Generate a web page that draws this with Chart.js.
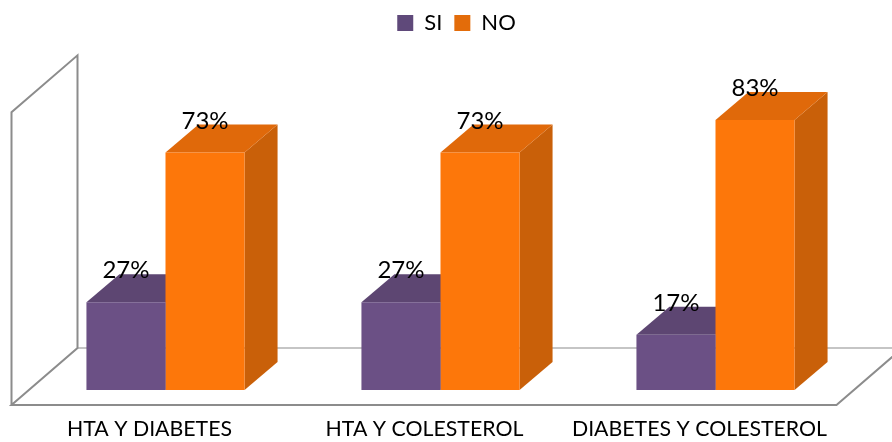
<!DOCTYPE html>
<html><head><meta charset="utf-8">
<style>html,body{margin:0;padding:0;background:#fff}#w{width:892px;height:442px;position:relative}</style>
<script src="https://cdn.jsdelivr.net/npm/chart.js@4"></script>
</head><body><div id="w"><canvas id="c"></canvas></div>
<script>
const categories = ["HTA Y DIABETES", "HTA Y COLESTEROL", "DIABETES Y COLESTEROL"];
const siValues = [27, 27, 17];
const noValues = [73, 73, 83];
const wallTopValue = 90;
const FONT = 'Lato';
const depth = {dx: 33, dy: 28};
const floorPad = {dx: 16.5, dy: 15};
const faces = {
  si: {front: '#6b5085', top: '#5d4672', side: '#4f3b61', legend: '#5f497a'},
  no: {front: '#fd770a', top: '#e0690a', side: '#c96009', legend: '#e36c0a'}
};
const threeD = {
  id: 'threeD',
  beforeDatasetsDraw(chart) {
    const {ctx, chartArea: a, scales: {y}} = chart;
    const base = y.getPixelForValue(0);
    const fx = a.left - floorPad.dx, fy = base + floorPad.dy;
    const bdx = 66, bdy = 57;
    const wallH = base - y.getPixelForValue(wallTopValue);
    ctx.save();
    ctx.strokeStyle = '#8c8c8c'; ctx.lineJoin = 'miter';
    ctx.lineWidth = 1.2;
    ctx.beginPath();
    ctx.moveTo(fx + bdx, fy - bdy);
    ctx.lineTo(a.right - floorPad.dx + bdx, fy - bdy);
    ctx.stroke();
    ctx.lineWidth = 2;
    ctx.beginPath();
    ctx.moveTo(fx, fy); ctx.lineTo(fx, fy - wallH);
    ctx.lineTo(fx + bdx, fy - bdy - wallH); ctx.lineTo(fx + bdx, fy - bdy);
    ctx.lineTo(fx, fy); ctx.lineTo(a.right - floorPad.dx, fy);
    ctx.lineTo(a.right - floorPad.dx + bdx, fy - bdy);
    ctx.stroke();
    const sets = [faces.si, faces.no];
    sets.forEach((f, d) => {
      chart.getDatasetMeta(d).data.forEach(b => {
        const L = b.x - b.width / 2, R = b.x + b.width / 2, T = b.y, B = b.base;
        ctx.fillStyle = f.side;
        ctx.beginPath(); ctx.moveTo(R, T); ctx.lineTo(R + depth.dx, T - depth.dy);
        ctx.lineTo(R + depth.dx, B - depth.dy); ctx.lineTo(R, B); ctx.closePath(); ctx.fill();
        ctx.fillStyle = f.top;
        ctx.beginPath(); ctx.moveTo(L, T); ctx.lineTo(L + depth.dx, T - depth.dy);
        ctx.lineTo(R + depth.dx, T - depth.dy); ctx.lineTo(R, T); ctx.closePath(); ctx.fill();
      });
    });
    ctx.restore();
  },
  afterDatasetsDraw(chart) {
    const {ctx} = chart;
    ctx.save();
    ctx.fillStyle = '#000'; ctx.font = '24px ' + FONT;
    ctx.textAlign = 'center'; ctx.textBaseline = 'alphabetic';
    chart.data.datasets.forEach((ds, d) => {
      chart.getDatasetMeta(d).data.forEach((b, i) => {
        ctx.fillText(ds.data[i] + '%', b.x, b.y - 24);
      });
    });
    ctx.restore();
  }
};
new Chart(document.getElementById('c'), {
  type: 'bar',
  data: {
    labels: categories,
    datasets: [
      {label: 'SI', data: siValues, backgroundColor: faces.si.front, borderWidth: 0, yAxisID: 'y'},
      {label: 'NO', data: noValues, backgroundColor: faces.no.front, borderWidth: 0, yAxisID: 'y'}
    ]
  },
  options: {
    responsive: true, maintainAspectRatio: false, animation: false,
    layout: {padding: {left: 21, right: 0, top: 0, bottom: 0}},
    datasets: {bar: {categoryPercentage: 0.575, barPercentage: 1}},
    plugins: {
      tooltip: {enabled: false},
      legend: {
        display: true, position: 'top',
        labels: {
          boxWidth: 16, boxHeight: 16, padding: 12, color: '#000',
          font: {family: FONT, size: 22},
          generateLabels: () => [
            {text: 'SI', fillStyle: faces.si.legend, strokeStyle: faces.si.legend, lineWidth: 0, datasetIndex: 0},
            {text: 'NO', fillStyle: faces.no.legend, strokeStyle: faces.no.legend, lineWidth: 0, datasetIndex: 1}
          ]
        }
      }
    },
    scales: {
      x: {
        grid: {display: false}, border: {display: false},
        afterFit(s) { s.height = 52; },
        ticks: {color: '#000', font: {family: FONT, size: 21.3}, padding: 18, labelOffset: -16, maxRotation: 0, autoSkip: false}
      },
      y: {
        position: 'left', min: 0, max: 106.4,
        grid: {display: false}, border: {display: false}, ticks: {display: false},
        afterFit(s) { s.width = 7; }
      },
      yPad: {
        type: 'linear', position: 'right', min: 0, max: 106.4,
        grid: {display: false}, border: {display: false}, ticks: {display: false},
        afterFit(s) { s.width = 39; }
      }
    }
  },
  plugins: [threeD]
});
</script></body></html>
